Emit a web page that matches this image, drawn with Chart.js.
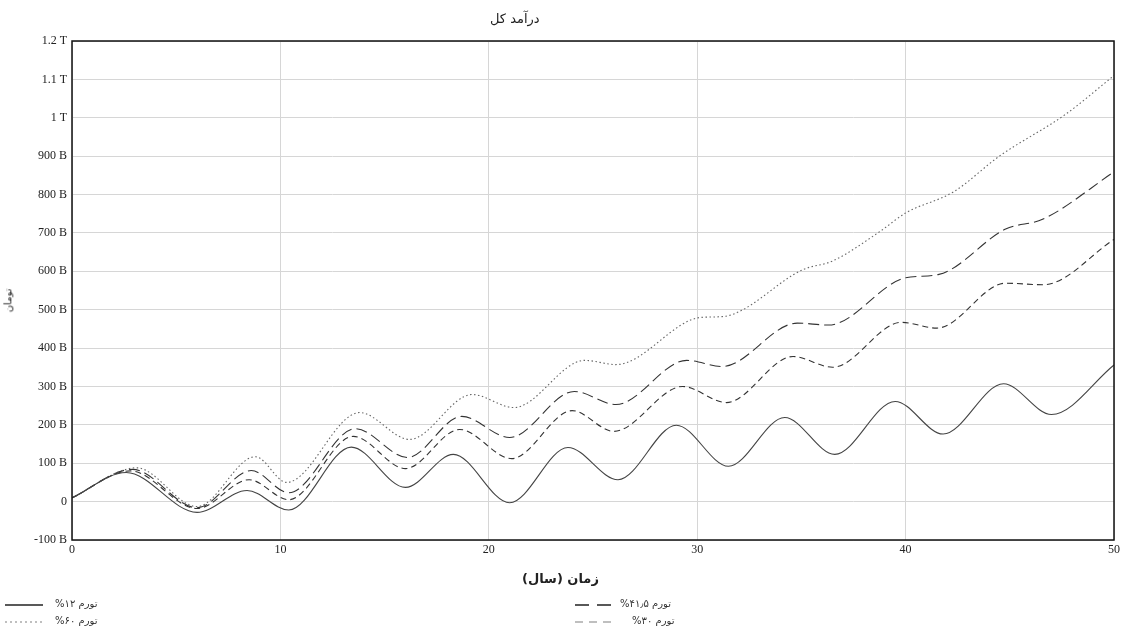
<!DOCTYPE html>
<html>
<head>
<meta charset="utf-8">
<script src="https://cdn.jsdelivr.net/npm/chart.js@4/dist/chart.umd.min.js"></script>
<style>
body { margin: 0; background: #fff; }
#wrap { position: relative; width: 1123px; height: 633px; font-family: "DejaVu Sans", sans-serif; color: #222; }
#c { position: absolute; left: 0; top: 0; }
.lbl { position: absolute; direction: rtl; unicode-bidi: isolate; white-space: nowrap; }
#title { left: 490px; top: 11px; font-size: 13px; }
#xtitle { left: 522px; top: 571px; font-size: 13px; font-weight: bold; }
#ytitle { left: -4px; top: 295px; font-size: 10px; transform: rotate(-90deg); }
.leg { font-size: 10px; color: #333; }
.samp { position: absolute; }
</style>
</head>
<body>
<div id="wrap">
<canvas id="c" width="1123" height="633"></canvas>
<div class="lbl" id="title">درآمد کل</div>
<div class="lbl" id="xtitle">زمان (سال)</div>
<div class="lbl" id="ytitle">تومان</div>
<div id="legend"></div>
</div>
<script>
// values in billion toman, x = year
var inf12 = [[0,10],[2.6,76],[6.0,-28],[8.4,29],[10.4,-22],[13.4,142],[16.0,37],[18.3,123],[21.0,-3],[23.8,141],[26.2,57],[29.0,199],[31.5,92],[34.2,219],[36.6,123],[39.5,261],[41.8,176],[44.7,307],[47.0,227],[50,356]];
var inf30 = [[0,10],[2.8,80],[6.0,-18],[8.5,57],[10.4,5],[13.5,170],[16.0,86],[18.6,188],[21.1,112],[24.0,237],[26.0,183],[29.3,300],[31.4,258],[34.6,378],[36.5,350],[39.8,467],[41.5,452],[44.8,569],[46.6,565],[50,683]];
var inf415 = [[0,10],[2.9,84],[6.0,-16],[8.6,81],[10.4,23],[13.6,190],[16.1,115],[18.7,222],[21.0,167],[24.1,287],[26.1,253],[29.5,368],[31.2,352],[34.8,465],[36.3,460],[40.0,583],[41.6,592],[44.8,710],[46.6,736],[50,859]];
var inf60 = [[0,10],[3.1,88],[6.0,-13],[8.8,117],[10.3,50],[13.8,232],[16.2,162],[19.2,279],[21.2,245],[24.6,368],[26.1,357],[30.2,480],[31.2,482],[35.1,605],[36.5,627],[38.8,705],[40,752],[42.3,807],[44.5,900],[47.7,1010],[50,1110]];

var seriesNames = ["تورم ۱۲%", "تورم ۶۰%", "تورم ۴۱٫۵%", "تورم ۳۰%"];
var seriesData = [inf12, inf60, inf415, inf30];
var seriesDash = [[], [1.5, 2.5], [11, 5], [6, 4]];
var seriesColor = ["#444", "#666", "#333", "#333"];

function pts(arr) {
    return arr.map(function (p) { return {x: p[0], y: p[1]}; });
}

var datasets = [];
for (var i = 0; i < seriesData.length; i++) {
    datasets.push({
        label: seriesNames[i],
        data: pts(seriesData[i]),
        borderColor: seriesColor[i],
        borderWidth: 1.1,
        borderDash: seriesDash[i],
        pointRadius: 0,
        fill: false,
        cubicInterpolationMode: 'monotone'
    });
}

var framePlugin = {
    id: 'frame',
    afterDraw: function (chart) {
        var a = chart.chartArea, ctx = chart.ctx;
        ctx.save();
        ctx.strokeStyle = '#111';
        ctx.lineWidth = 1.5;
        ctx.strokeRect(a.left, a.top, a.right - a.left, a.bottom - a.top);
        ctx.restore();
    }
};

new Chart(document.getElementById('c').getContext('2d'), {
    type: 'line',
    data: {datasets: datasets},
    options: {
        responsive: false,
        animation: false,
        devicePixelRatio: 1,
        layout: {padding: {left: 0, right: 8, top: 41, bottom: 73}},
        plugins: {legend: {display: false}, title: {display: false}, tooltip: {enabled: false}},
        scales: {
            x: {
                type: 'linear', min: 0, max: 50,
                afterFit: function (s) { s.height = 20; },
                ticks: {stepSize: 10, padding: 3, color: '#222', font: {family: 'Liberation Serif', size: 12}},
                grid: {color: '#d6d6d6', drawTicks: false},
                border: {display: false}
            },
            y: {
                min: -100, max: 1200,
                afterFit: function (s) { s.width = 72; },
                ticks: {
                    stepSize: 100, padding: 5, color: '#222', font: {family: 'Liberation Serif', size: 12},
                    callback: function (v) {
                        if (v === 0) return '0';
                        if (Math.abs(v) >= 1000) return (v / 1000) + ' T';
                        return v + ' B';
                    }
                },
                grid: {color: '#d6d6d6', drawTicks: false},
                border: {display: false}
            }
        }
    },
    plugins: [framePlugin]
});

// legend
var legPos = [[5, 598], [5, 615], [575, 598], [575, 615]];
var legTextX = [55, 55, 620, 632];
var legColor = ["#222", "#aaa", "#222", "#aaa"];
var legDash = ["", "2,3", "14,8", "8,6"];
var legHtml = '';
for (var k = 0; k < 4; k++) {
    legHtml += '<svg class="samp" width="40" height="6" style="left:' + legPos[k][0] + 'px;top:' + (legPos[k][1] + 4) + 'px"><line x1="0" y1="3" x2="38" y2="3" stroke="' + legColor[k] + '" stroke-width="1.3"' + (legDash[k] ? ' stroke-dasharray="' + legDash[k] + '"' : '') + '/></svg>';
    legHtml += '<div class="lbl leg" style="left:' + legTextX[k] + 'px;top:' + legPos[k][1] + 'px">' + seriesNames[k] + '</div>';
}
var lg = document.getElementById('legend');
lg.style.position = 'absolute'; lg.style.left = '0'; lg.style.top = '0';
lg.innerHTML = legHtml;
</script>
</body>
</html>
